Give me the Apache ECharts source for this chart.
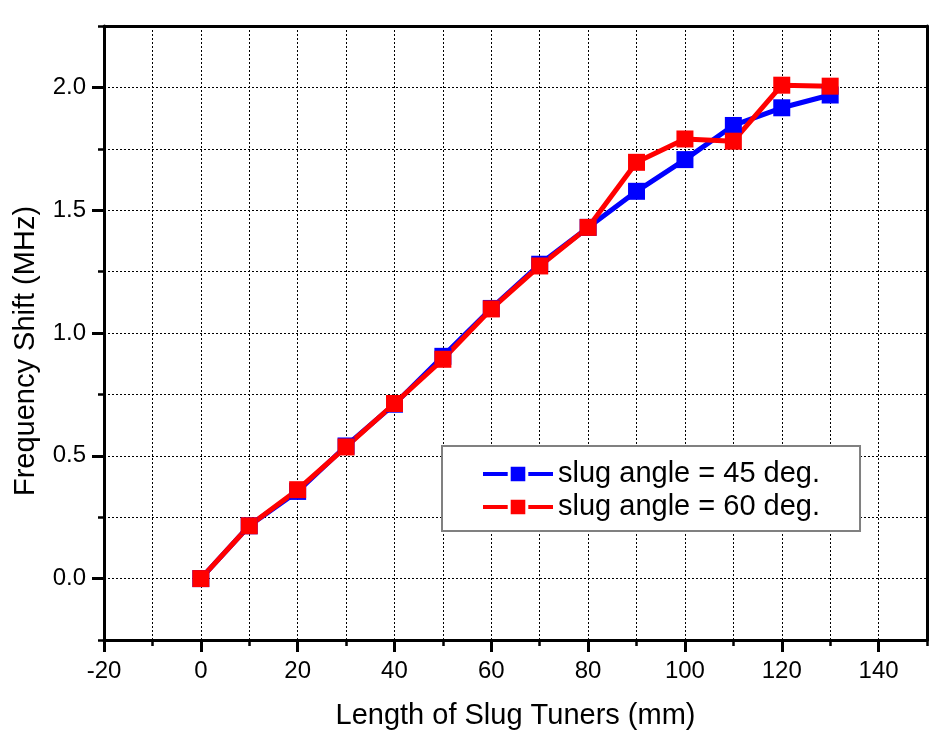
<!DOCTYPE html>
<html>
<head>
<meta charset="utf-8">
<script src="https://cdn.jsdelivr.net/npm/echarts@6/dist/echarts.min.js"></script>
<style>
html,body{margin:0;padding:0;background:#fff;}
#chart{width:950px;height:747px;}
</style>
</head>
<body>
<div id="chart"></div>
<script>
// ---- data ----
var xValues = [0, 10, 20, 30, 40, 50, 60, 70, 80, 90, 100, 110, 120, 130];
var angle45 = [0, 0.215, 0.355, 0.54, 0.71, 0.905, 1.10, 1.28, 1.43, 1.577, 1.706, 1.845, 1.917, 1.969];
var angle60 = [0, 0.215, 0.362, 0.536, 0.713, 0.893, 1.098, 1.273, 1.43, 1.695, 1.79, 1.781, 2.009, 2.005];
var seriesNames = ['slug angle = 45 deg.', 'slug angle = 60 deg.'];
var xTitle = 'Length of Slug Tuners (mm)';
var yTitle = 'Frequency Shift (MHz)';

function pairs(xs, ys) { return xs.map(function (x, i) { return [x, ys[i]]; }); }

var FONT = 'Liberation Sans, Arial, sans-serif';
var L = 104, T = 26, W = 823, H = 614;
var xMin = -20, xMax = 150, yMin = -0.25, yMax = 2.25;
var gridLine = { show: true, lineStyle: { color: '#000', width: 1, type: [2, 2] } };

var chart = echarts.init(document.getElementById('chart'), null, { renderer: 'canvas' });
chart.setOption({
  animation: false,
  backgroundColor: '#fff',
  grid: [
    { left: L, top: T, width: W, height: H },
    { left: L, top: T, width: W * (140 - xMin) / (xMax - xMin), height: H },
    { left: L, top: T + H * (yMax - 2) / (yMax - yMin), width: W, height: H * 2 / (yMax - yMin) }
  ],
  xAxis: [
    { type: 'value', gridIndex: 0, min: xMin, max: xMax, interval: 10, position: 'bottom',
      axisLine: { show: true, onZero: false, lineStyle: { color: '#000', width: 3 } },
      axisTick: { show: true, inside: false, length: 6, lineStyle: { color: '#000', width: 2.5 } },
      axisLabel: { show: false }, splitLine: gridLine,
      name: xTitle, nameLocation: 'middle', nameGap: 61,
      nameTextStyle: { fontFamily: FONT, fontSize: 29, color: '#000' } },
    { type: 'value', gridIndex: 0, min: xMin, max: xMax, position: 'top',
      axisLine: { show: true, onZero: false, lineStyle: { color: '#000', width: 3 } },
      axisTick: { show: false }, axisLabel: { show: false }, splitLine: { show: false } },
    { type: 'value', gridIndex: 1, min: xMin, max: 140, interval: 20, position: 'bottom',
      axisLine: { show: false, onZero: false },
      axisTick: { show: true, length: 12, lineStyle: { color: '#000', width: 3 } },
      axisLabel: { show: true, margin: 19, fontFamily: FONT, fontSize: 24, color: '#000' },
      splitLine: { show: false } },
    { type: 'value', gridIndex: 2, min: xMin, max: xMax, show: false }
  ],
  yAxis: [
    { type: 'value', gridIndex: 0, min: yMin, max: yMax, interval: 0.25, position: 'left',
      axisLine: { show: true, onZero: false, lineStyle: { color: '#000', width: 3 } },
      axisTick: { show: true, length: 6, lineStyle: { color: '#000', width: 2.5 } },
      axisLabel: { show: false }, splitLine: gridLine },
    { type: 'value', gridIndex: 0, min: yMin, max: yMax, position: 'right',
      axisLine: { show: true, onZero: false, lineStyle: { color: '#000', width: 3 } },
      axisTick: { show: false }, axisLabel: { show: false }, splitLine: { show: false } },
    { type: 'value', gridIndex: 1, min: yMin, max: yMax, show: false },
    { type: 'value', gridIndex: 2, min: 0, max: 2, interval: 0.5, position: 'left',
      axisLine: { show: false, onZero: false },
      axisTick: { show: true, length: 12, lineStyle: { color: '#000', width: 3 } },
      axisLabel: { show: true, margin: 18, fontFamily: FONT, fontSize: 24, color: '#000',
        formatter: function (v) { return v.toFixed(1); } },
      splitLine: { show: false } }
  ],
  legend: {
    orient: 'vertical', left: 442, top: 446,
    padding: [12, 40, 8, 39], itemGap: 1, itemWidth: 70, itemHeight: 22,
    backgroundColor: '#fff', borderColor: '#808080', borderWidth: 2,
    lineStyle: { width: 4 },
    itemStyle: { borderColor: '#fff', borderWidth: 3 },
    textStyle: { fontFamily: FONT, fontSize: 29, color: '#000', lineHeight: 32 },
    data: seriesNames
  },
  graphic: [
    { type: 'text', x: 26, y: 351, rotation: Math.PI / 2,
      style: { text: yTitle, fontFamily: FONT, fontSize: 29, fill: '#000', align: 'center', verticalAlign: 'middle' } }
  ],
  series: [
    { name: seriesNames[0], type: 'line', xAxisIndex: 0, yAxisIndex: 0,
      data: pairs(xValues, angle45), symbol: 'rect', symbolSize: 17,
      lineStyle: { color: '#0000ff', width: 5 }, itemStyle: { color: '#0000ff' } },
    { name: seriesNames[1], type: 'line', xAxisIndex: 0, yAxisIndex: 0,
      data: pairs(xValues, angle60), symbol: 'rect', symbolSize: 17,
      lineStyle: { color: '#ff0000', width: 5 }, itemStyle: { color: '#ff0000' } }
  ]
});
</script>
</body>
</html>
